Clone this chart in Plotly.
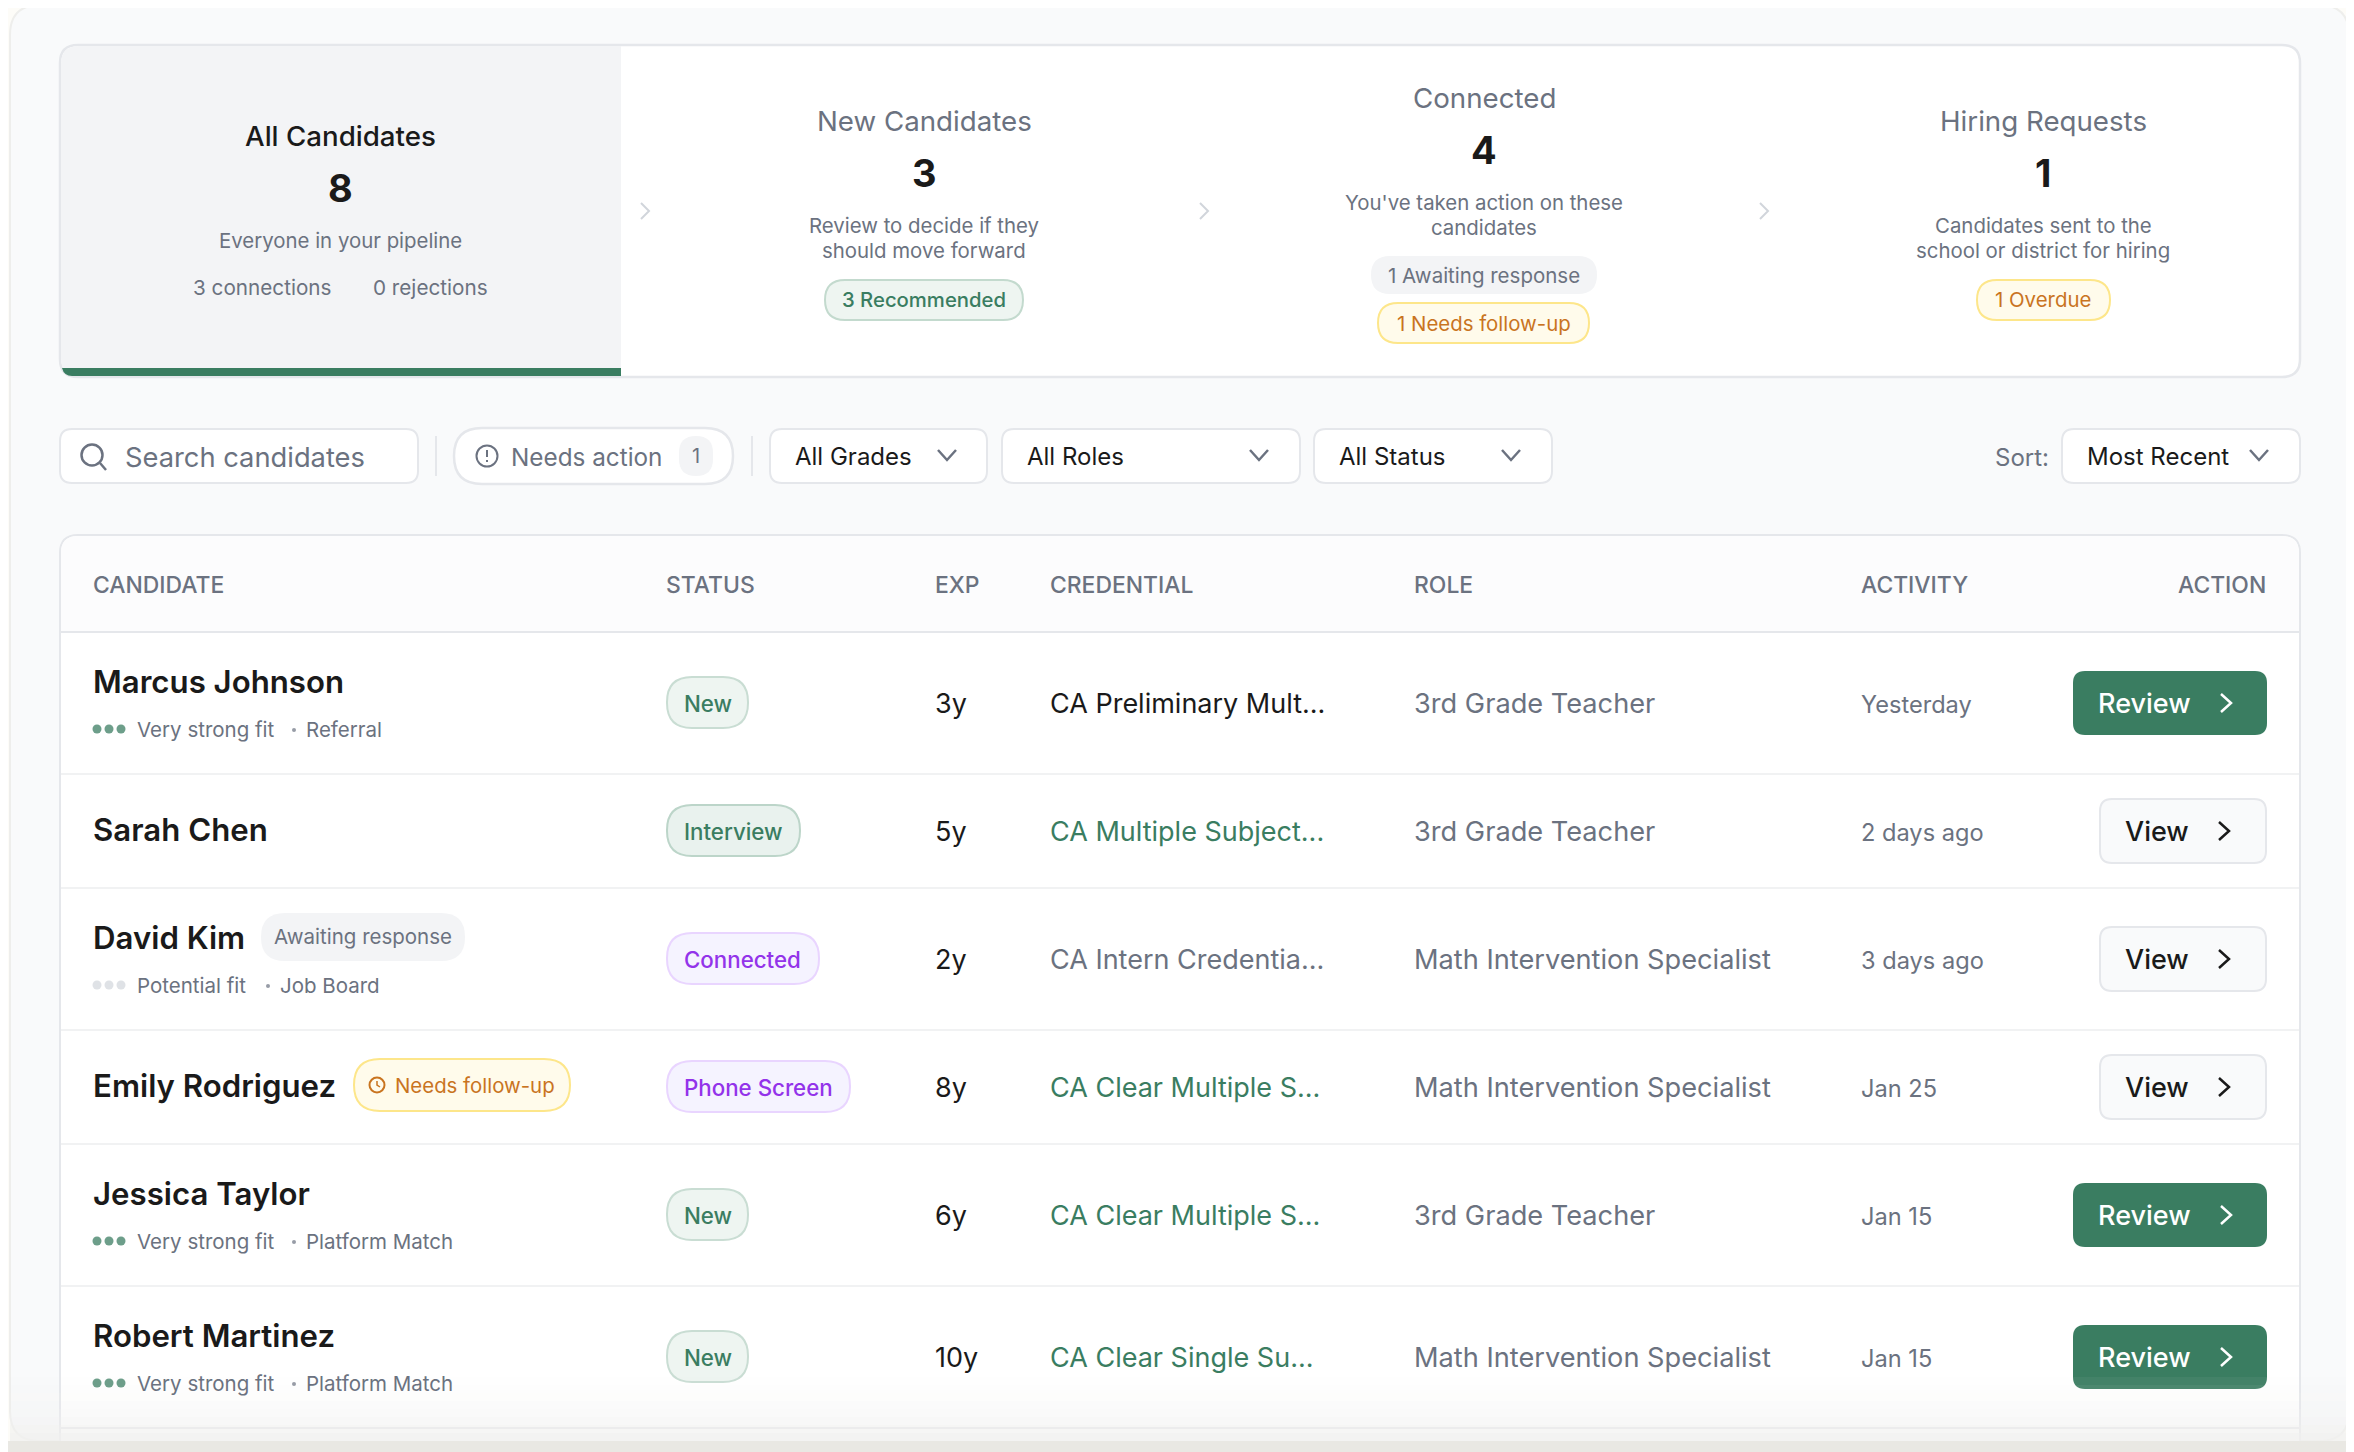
import plotly.graph_objects as go

# --- data ---
funnel_titles = ["All Candidates", "New Candidates", "Connected", "Hiring Requests"]
funnel_counts = ["8", "3", "4", "1"]
funnel_descs = [
    ["Everyone in your pipeline"],
    ["Review to decide if they", "should move forward"],
    ["You've taken action on these", "candidates"],
    ["Candidates sent to the", "school or district for hiring"],
]
header_labels = ["CANDIDATE", "STATUS", "EXP", "CREDENTIAL", "ROLE", "ACTIVITY", "ACTION"]
names = ["Marcus Johnson", "Sarah Chen", "David Kim", "Emily Rodriguez", "Jessica Taylor", "Robert Martinez"]
fits = ["Very strong fit", None, "Potential fit", None, "Very strong fit", "Very strong fit"]
sources = ["Referral", None, "Job Board", None, "Platform Match", "Platform Match"]
statuses = ["New", "Interview", "Connected", "Phone Screen", "New", "New"]
experience = ["3y", "5y", "2y", "8y", "6y", "10y"]
credentials = ["CA Preliminary Mult...", "CA Multiple Subject...", "CA Intern Credentia...",
               "CA Clear Multiple S...", "CA Clear Multiple S...", "CA Clear Single Su..."]
credential_state = ["plain", "valid", "muted", "valid", "valid", "valid"]
roles = ["3rd Grade Teacher", "3rd Grade Teacher", "Math Intervention Specialist",
         "Math Intervention Specialist", "3rd Grade Teacher", "Math Intervention Specialist"]
activity = ["Yesterday", "2 days ago", "3 days ago", "Jan 25", "Jan 15", "Jan 15"]
actions = ["Review", "View", "View", "View", "Review", "Review"]

# --- layout, in page pixels ---
W, H = 2354, 1452
GREEN = "#3a7d61"
DOT_GREEN = "#2f7558"
DARK = "#1a1a1a"
GRAY = "#6b7280"
LINE = "#e5e7eb"
FONT = "Inter"

funnel_cx = [340, 924, 1484, 2043]
row_lines = [632, 774, 888, 1030, 1144, 1286, 1428]
name_y = [682, 830, 938, 1086, 1194, 1336]
sub_y = [729, None, 985, None, 1241, 1383]
center_y = [703, 831, 959, 1087, 1215, 1357]
pill_right = {"New": 748, "Interview": 800, "Connected": 819, "Phone Screen": 850}
pill_style = {
    "New": ("#eef5f1", "#c9ddd3", GREEN),
    "Interview": ("#e9f2ee", "#bcd5c9", GREEN),
    "Connected": ("#f5f3ff", "#e9d5ff", "#9333ea"),
    "Phone Screen": ("#f5f3ff", "#e9d5ff", "#9333ea"),
}
header_x = [93, 666, 935, 1050, 1414, 1861, 2266]

shapes = []
annotations = []


def rrect(x0, y0, x1, y1, r, fill=None, line=None, w=2):
    path = (f"M {x0+r} {y0} L {x1-r} {y0} Q {x1} {y0} {x1} {y0+r} L {x1} {y1-r} Q {x1} {y1} {x1-r} {y1} "
            f"L {x0+r} {y1} Q {x0} {y1} {x0} {y1-r} L {x0} {y0+r} Q {x0} {y0} {x0+r} {y0} Z")
    shapes.append(dict(type="path", path=path, layer="below", xref="x", yref="y",
                       fillcolor=fill or "rgba(0,0,0,0)",
                       line=dict(color=line or "rgba(0,0,0,0)", width=w if line else 0)))


def rect(x0, y0, x1, y1, fill, opacity=1):
    shapes.append(dict(type="rect", x0=x0, y0=y0, x1=x1, y1=y1, layer="below", xref="x", yref="y",
                       fillcolor=fill, opacity=opacity, line=dict(width=0)))


def stroke(path, color, w=2):
    shapes.append(dict(type="path", path=path, layer="below", xref="x", yref="y",
                       line=dict(color=color, width=w)))


def circle(cx, cy, r, color, w=2):
    shapes.append(dict(type="circle", x0=cx-r, x1=cx+r, y0=cy-r, y1=cy+r, layer="below", xref="x", yref="y",
                       line=dict(color=color, width=w)))


def label(x, y, text, size, color=GRAY, anchor="left", weight=400):
    annotations.append(dict(x=x, y=y, xref="x", yref="y", text=text, showarrow=False, xanchor=anchor,
                            yanchor="middle", borderpad=0, borderwidth=0,
                            font=dict(family=FONT, size=size, color=color, weight=weight)))


def chev_right(cx, cy, color, h=9, w=2.5, d=5):
    stroke(f"M {cx-d} {cy-h} L {cx+d} {cy} L {cx-d} {cy+h}", color, w)


def chev_down(cx, cy, color="#6b7280", d=9, h=5):
    stroke(f"M {cx-d} {cy-h} L {cx} {cy+h} L {cx+d} {cy-h}", color, 2.5)


# outer card
rrect(10, 5, 2349, 1441, 30, "#f9fafb", "#eeeeec", 2)

# funnel panel
rrect(60, 45, 2300, 377, 18, "#ffffff", LINE, 2.5)
path_active = ("M 61 64 Q 61 46 79 46 L 621 46 L 621 376 L 79 376 Q 61 376 61 358 Z")
shapes.append(dict(type="path", path=path_active, layer="below", xref="x", yref="y",
                   fillcolor="#f3f4f6", line=dict(width=0)))
shapes.append(dict(type="path", path="M 62 368 L 621 368 L 621 376 L 72 376 Q 64 376 62 368 Z", layer="below",
                   xref="x", yref="y", fillcolor=GREEN, line=dict(width=0)))

title_y = [135.5, 120.5, 97.5, 120.5]
count_y = [188, 173, 150, 173]
desc_y = [[240.5], [225.5, 250.5], [202.5, 227.5], [225.5, 250.5]]
for i in range(4):
    label(funnel_cx[i], title_y[i], funnel_titles[i], 27.7, DARK if i == 0 else GRAY, "center", 500 if i == 0 else 400)
    label(funnel_cx[i], count_y[i], funnel_counts[i], 38, DARK, "center", 700)
    for line_text, yy in zip(funnel_descs[i], desc_y[i]):
        label(funnel_cx[i], yy, line_text, 20.4, GRAY, "center")

label(193, 287.5, "3 connections", 20.7)
label(373, 287.5, "0 rejections", 20.7)

for cx in [645, 1204, 1764]:
    chev_right(cx, 211, "#d1d5db", h=8, w=2, d=4)

rrect(825, 280, 1023, 320, 20, "#eef5f1", "#c3dace", 2)
label(924, 299.5, "3 Recommended", 20.3, GREEN, "center", 500)
rrect(1371, 256, 1597, 294, 19, "#f3f4f6")
label(1484, 275, "1 Awaiting response", 20.5, GRAY, "center", 400)
rrect(1378, 303, 1589, 343, 20, "#fffbeb", "#fde68a", 2)
label(1484, 323, "1 Needs follow-up", 20.4, "#c9741f", "center", 400)
rrect(1977, 280, 2110, 320, 20, "#fffbeb", "#fde68a", 2)
label(2043, 299.5, "1 Overdue", 20.4, "#c9741f", "center", 400)

# filter row
rrect(60, 429, 418, 483, 12, "#ffffff", LINE, 2)
circle(92, 455, 10.5, GRAY, 2.5)
stroke("M 100 463 L 106 470", GRAY, 2.5)
label(125, 457, "Search candidates", 27.3)
rect(435, 436, 437, 476, LINE)
rrect(454, 428, 733, 484, 28, "#ffffff", LINE, 2.5)
circle(487, 456, 10.5, GRAY, 2)
stroke("M 487 450 L 487 457", GRAY, 2)
stroke("M 487 460 L 487 462", GRAY, 2)
label(511, 456.5, "Needs action", 24.3)
rrect(679, 436, 713, 476, 17, "#f3f4f6")
label(696, 456, "1", 20, GRAY, "center", 400)
rect(751, 436, 753, 476, LINE)

for x0, x1, tx, cx, text in [(770, 987, 795, 947, "All Grades"), (1002, 1300, 1027, 1259, "All Roles"),
                             (1314, 1552, 1339, 1511, "All Status"), (2062, 2300, 2087, 2259, "Most Recent")]:
    rrect(x0, 429, x1, 483, 12, "#ffffff", LINE, 2)
    label(tx, 456.5, text, 24, DARK)
    chev_down(cx, 455, GRAY)
label(1995, 457, "Sort:", 24)

# table
rrect(60, 535, 2300, 1480, 18, "#ffffff", LINE, 2)
shapes.append(dict(type="path", path="M 61 553 Q 61 536 78 536 L 2282 536 Q 2299 536 2299 553 L 2299 632 L 61 632 Z",
                   layer="below", xref="x", yref="y", fillcolor="#fcfcfd", line=dict(width=0)))
for i, y in enumerate(row_lines):
    rect(61, y-1, 2299, y+1, LINE if i in (0, 6) else "#f1f2f3")

for i, text in enumerate(header_labels):
    label(header_x[i], 585, text, 22.9, GRAY, "right" if i == 6 else "left", 500)

dot_x, dot_y, dot_c = [], [], []
for i in range(6):
    label(93, name_y[i], names[i], 31.2, DARK, "left", 600)
    if fits[i]:
        full = fits[i] == "Very strong fit"
        for cx in (97, 109, 121):
            dot_x.append(cx)
            dot_y.append(sub_y[i])
            dot_c.append(DOT_GREEN if full else "#d1d5db")
        label(137, sub_y[i], fits[i], 20.5)
        sep_x = 294 if full else 268
        dot_x.append(sep_x)
        dot_y.append(sub_y[i] + 1)
        dot_c.append(GRAY)
        label(sep_x + 12, sub_y[i], sources[i], 20.5)
    fill, edge, txt = pill_style[statuses[i]]
    yc = center_y[i]
    rrect(667, yc-26, pill_right[statuses[i]], yc+25, 25, fill, edge, 2)
    label(684, yc, statuses[i], 22.3, txt, "left", 500)
    label(935, yc, experience[i], 27, DARK)
    cred_color = {"plain": DARK, "valid": GREEN, "muted": GRAY}[credential_state[i]]
    label(1050, yc, credentials[i], 27, cred_color)
    label(1414, yc, roles[i], 27.2, GRAY)
    label(1861, yc + 1.5, activity[i], 23.6, GRAY)
    if actions[i] == "Review":
        rrect(2073, yc-32, 2267, yc+32, 12, GREEN)
        label(2098, yc, "Review", 27, "#ffffff", "left", 500)
        chev_right(2226, yc, "#ffffff")
    else:
        rrect(2100, yc-32, 2266, yc+32, 12, "#f9fafb", LINE, 2)
        label(2125, yc, "View", 27, DARK, "left", 500)
        chev_right(2224, yc, DARK)

rrect(261, 913, 465, 961, 24, "#f3f4f6")
label(363, 936, "Awaiting response", 20.5, GRAY, "center", 400)
rrect(354, 1059, 570, 1111, 26, "#fffbeb", "#fde68a", 2)
circle(377, 1085, 7.5, "#c9741f", 2)
stroke("M 377 1081 L 377 1085 L 380 1087", "#c9741f", 1.5)
label(395, 1085, "Needs follow-up", 20.4, "#c9741f", "left", 400)

# bottom fade, then the band under the card
for k, op in enumerate([0.05, 0.1, 0.16, 0.24, 0.34, 0.46, 0.6, 0.8]):
    rect(10, 1377 + k * 8, 2349, 1385 + k * 8, "#f0f0ef", op)
rect(0, 1441, W, H, "#e9e8e3")

fig = go.Figure(go.Scatter(x=dot_x, y=dot_y, mode="markers", hoverinfo="skip",
                           marker=dict(color=dot_c, size=[4 if c == GRAY else 9 for c in dot_c], line=dict(width=0))))
fig.update_layout(
    width=W - 8, height=H - 8, margin=dict(l=0, r=0, t=0, b=0), showlegend=False,
    paper_bgcolor="#fdfcf8", plot_bgcolor="#fdfcf8",
    xaxis=dict(range=[8, W], visible=False, fixedrange=True),
    yaxis=dict(range=[H, 8], visible=False, fixedrange=True),
    shapes=shapes, annotations=annotations,
)
fig.write_html("out.html")
